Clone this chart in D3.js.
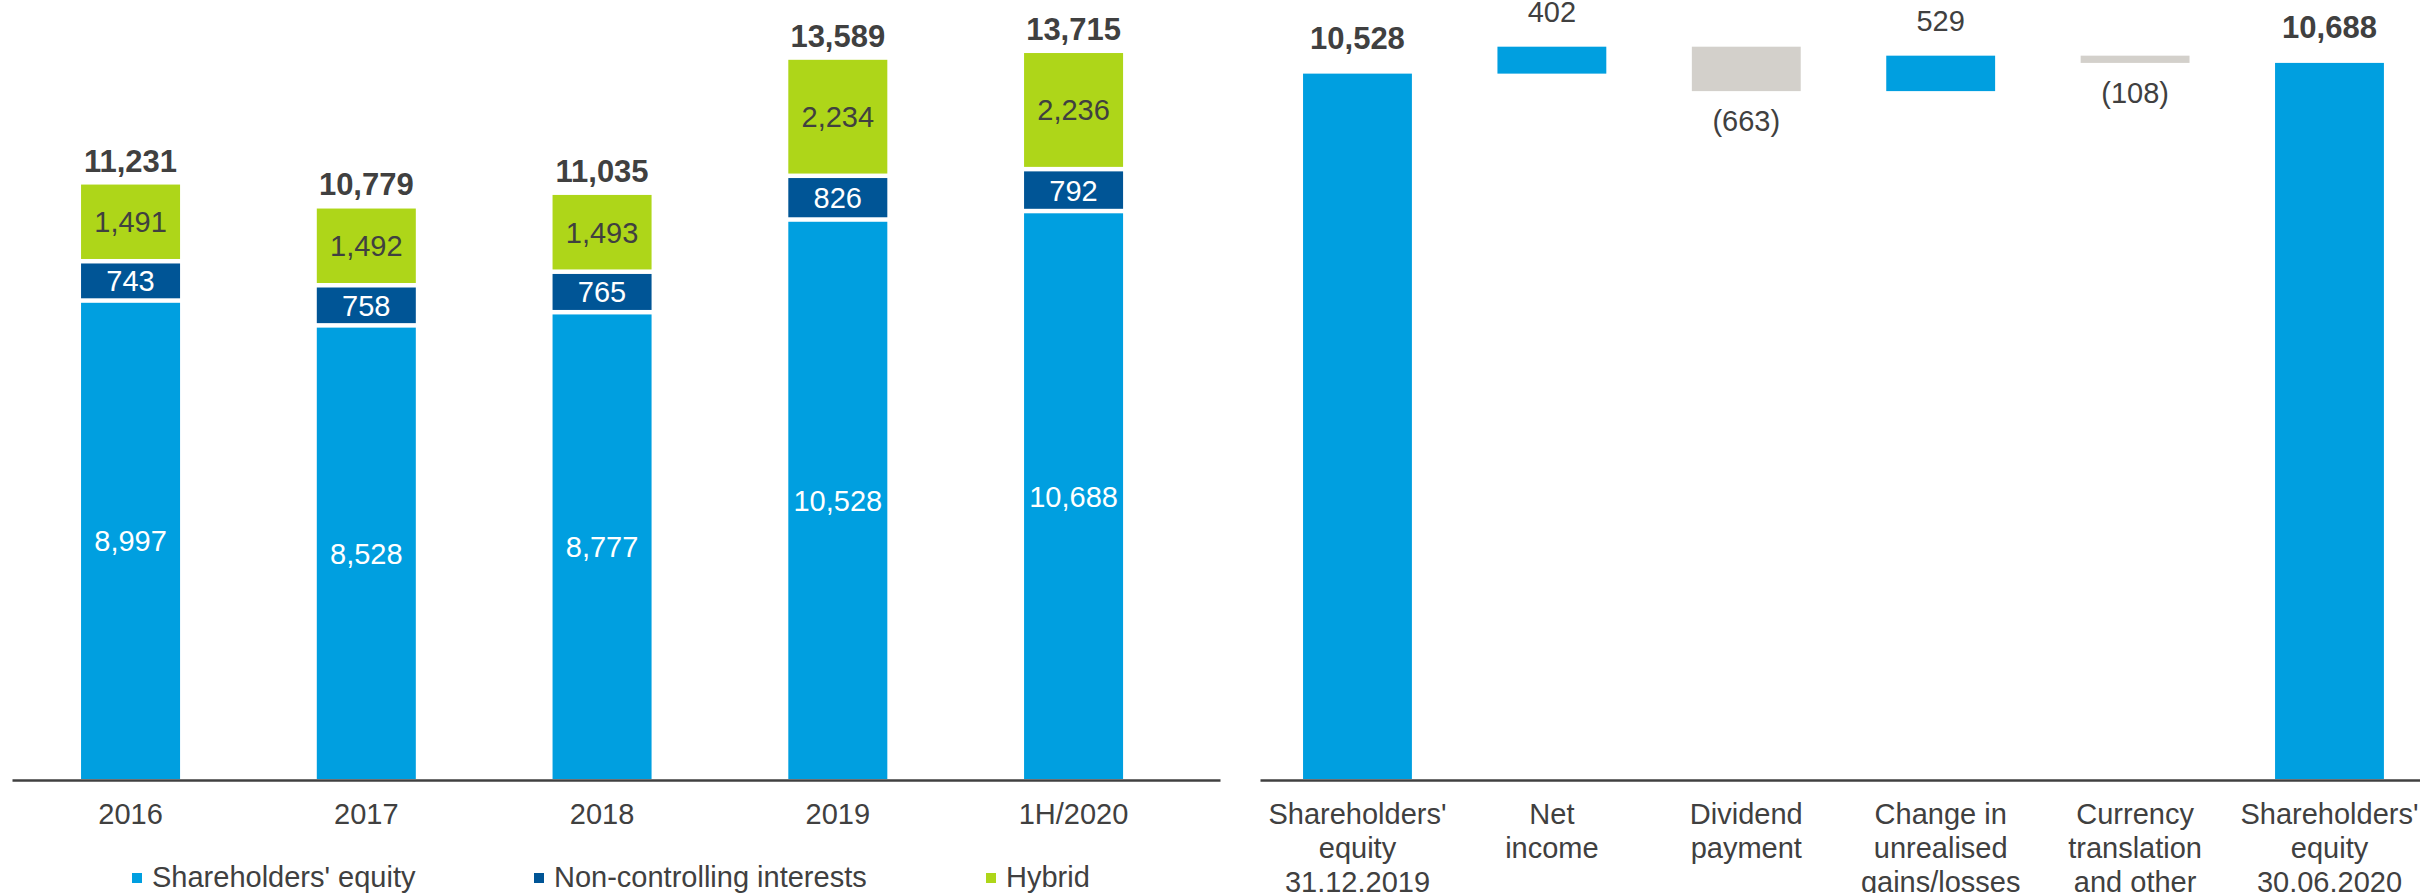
<!DOCTYPE html>
<meta charset="utf-8">
<script src="https://d3js.org/d3.v7.min.js"></script>
<style>
  body { margin: 0; background: #fff; }
  text { font-family: "Liberation Sans", Arial, sans-serif; }
</style>
<body>
<div id="my_dataviz"></div>
<script>

// left chart: equity by year
var years = ["2016", "2017", "2018", "2019", "1H/2020"];
var shareholdersEquity = [8997, 8528, 8777, 10528, 10688];
var nonControlling = [743, 758, 765, 826, 792];
var hybrid = [1491, 1492, 1493, 2234, 2236];
var totals = [11231, 10779, 11035, 13589, 13715];
var seriesNames = ["Shareholders' equity", "Non-controlling interests", "Hybrid"];

// right chart: development of shareholders' equity
var stepLabels = [
  ["Shareholders'", "equity", "31.12.2019"],
  ["Net", "income"],
  ["Dividend", "payment"],
  ["Change in", "unrealised", "gains/losses"],
  ["Currency", "translation", "and other"],
  ["Shareholders'", "equity", "30.06.2020"]
];
var stepValues = [10528, 402, -663, 529, -108, 10688];
var stepIsTotal = [true, false, false, false, false, true];

var colors = ["#009FE0", "#005596", "#AED619"];
var labelColors = ["#ffffff", "#ffffff", "#404040"];
var grey = "#D3D0CB";
var textColor = "#404040";
var fmt = d3.format(",");

var width = 2420, height = 893;
var baseY = 779, axisY = 780;

var svg = d3.select("#my_dataviz")
  .append("svg")
    .attr("width", width)
    .attr("height", height);

// ---------- left: stacked bars ----------
var x = d3.scaleBand()
  .domain(years)
  .range([12, 1220])
  .paddingInner(0.58)
  .paddingOuter(0.352)
  .align(0.416);

var y = d3.scaleLinear()
  .domain([0, 14000])
  .range([baseY, 38]);

var rows = years.map(function(yr, i) {
  return {year: yr, 0: shareholdersEquity[i], 1: nonControlling[i], 2: hybrid[i]};
});
var stacked = d3.stack().keys([0, 1, 2])(rows);
var gap = 4.5;

var left = svg.append("g");

stacked.forEach(function(layer, k) {
  left.selectAll(".seg" + k)
    .data(layer)
    .enter()
    .append("rect")
      .attr("x", function(d) { return x(d.data.year); })
      .attr("width", x.bandwidth())
      .attr("y", function(d) { return y(d[1]); })
      .attr("height", function(d) { return y(d[0]) - y(d[1]) - (k > 0 ? gap : 0); })
      .attr("fill", colors[k]);

  left.selectAll(".lab" + k)
    .data(layer)
    .enter()
    .append("text")
      .attr("x", function(d) { return x(d.data.year) + x.bandwidth() / 2; })
      .attr("y", function(d) { return (y(d[0]) - (k > 0 ? gap : 0) + y(d[1])) / 2; })
      .attr("dy", "0.36em")
      .attr("text-anchor", "middle")
      .style("font-size", "29px")
      .attr("fill", labelColors[k])
      .text(function(d) { return fmt(d.data[k]); });
});

// totals on top
left.selectAll(".total")
  .data(years)
  .enter()
  .append("text")
    .attr("x", function(d) { return x(d) + x.bandwidth() / 2; })
    .attr("y", function(d, i) { return y(totals[i]) - 13; })
    .attr("text-anchor", "middle")
    .style("font-size", "31px")
    .style("font-weight", "bold")
    .attr("fill", textColor)
    .text(function(d, i) { return fmt(totals[i]); });

// x axis
var xAxisL = left.append("g")
  .attr("transform", "translate(0," + axisY + ")")
  .call(d3.axisBottom(x).tickSize(0).tickSizeOuter(0).tickPadding(23));
xAxisL.select(".domain").attr("stroke", textColor).attr("stroke-width", 2.5);
xAxisL.selectAll("text")
  .style("font-size", "29px")
  .style("font-family", "'Liberation Sans', Arial, sans-serif")
  .attr("fill", textColor);

// legend
var legendX = [132, 534, 986];
var legend = left.selectAll(".legend")
  .data(seriesNames)
  .enter()
  .append("g")
    .attr("transform", function(d, i) { return "translate(" + legendX[i] + ",0)"; });
legend.append("rect")
  .attr("x", 0).attr("y", 873)
  .attr("width", 10).attr("height", 10)
  .attr("fill", function(d, i) { return colors[i]; });
legend.append("text")
  .attr("x", 20).attr("y", 887)
  .style("font-size", "29px")
  .attr("fill", textColor)
  .text(function(d) { return d; });

// ---------- right: waterfall ----------
var keys = stepLabels.map(function(d) { return d.join(" "); });

var x2 = d3.scaleBand()
  .domain(keys)
  .range([1260, 2420])
  .paddingInner(0.44)
  .paddingOuter(0.2035)
  .align(0.544);

var y2 = d3.scaleLinear()
  .domain([0, 11000])
  .range([baseY, 42]);

var running = 0;
var wf = stepValues.map(function(v, i) {
  var d;
  if (stepIsTotal[i]) {
    d = {key: keys[i], v: v, y0: 0, y1: v, total: true};
    running = v;
  } else {
    d = {key: keys[i], v: v, y0: running, y1: running + v, total: false};
    running += v;
  }
  return d;
});

var right = svg.append("g");

right.selectAll(".wbar")
  .data(wf)
  .enter()
  .append("rect")
    .attr("x", function(d) { return x2(d.key); })
    .attr("width", x2.bandwidth())
    .attr("y", function(d) { return y2(Math.max(d.y0, d.y1)); })
    .attr("height", function(d) { return Math.abs(y2(d.y0) - y2(d.y1)); })
    .attr("fill", function(d) { return d.v < 0 ? grey : colors[0]; });

right.selectAll(".wlab")
  .data(wf)
  .enter()
  .append("text")
    .attr("x", function(d) { return x2(d.key) + x2.bandwidth() / 2; })
    .attr("y", function(d) {
      if (d.v < 0) return y2(Math.min(d.y0, d.y1)) + 40;
      return y2(Math.max(d.y0, d.y1)) - 25;
    })
    .attr("text-anchor", "middle")
    .style("font-size", function(d) { return d.total ? "31px" : "29px"; })
    .style("font-weight", function(d) { return d.total ? "bold" : "normal"; })
    .attr("fill", textColor)
    .text(function(d) { return d.v < 0 ? "(" + fmt(-d.v) + ")" : fmt(d.v); });

var xAxisR = right.append("g")
  .attr("transform", "translate(0," + axisY + ")")
  .call(d3.axisBottom(x2).tickSize(0).tickSizeOuter(0).tickPadding(23));
xAxisR.select(".domain").attr("stroke", textColor).attr("stroke-width", 2.5);
xAxisR.selectAll("text")
  .style("font-size", "29px")
  .style("font-family", "'Liberation Sans', Arial, sans-serif")
  .attr("fill", textColor)
  .each(function(d, i) {
    var t = d3.select(this);
    var lines = stepLabels[i];
    t.text(null).attr("dy", null);
    lines.forEach(function(line, j) {
      t.append("tspan")
        .attr("x", 0)
        .attr("dy", j === 0 ? "0.71em" : "34px")
        .text(line);
    });
  });

</script>
</body>
